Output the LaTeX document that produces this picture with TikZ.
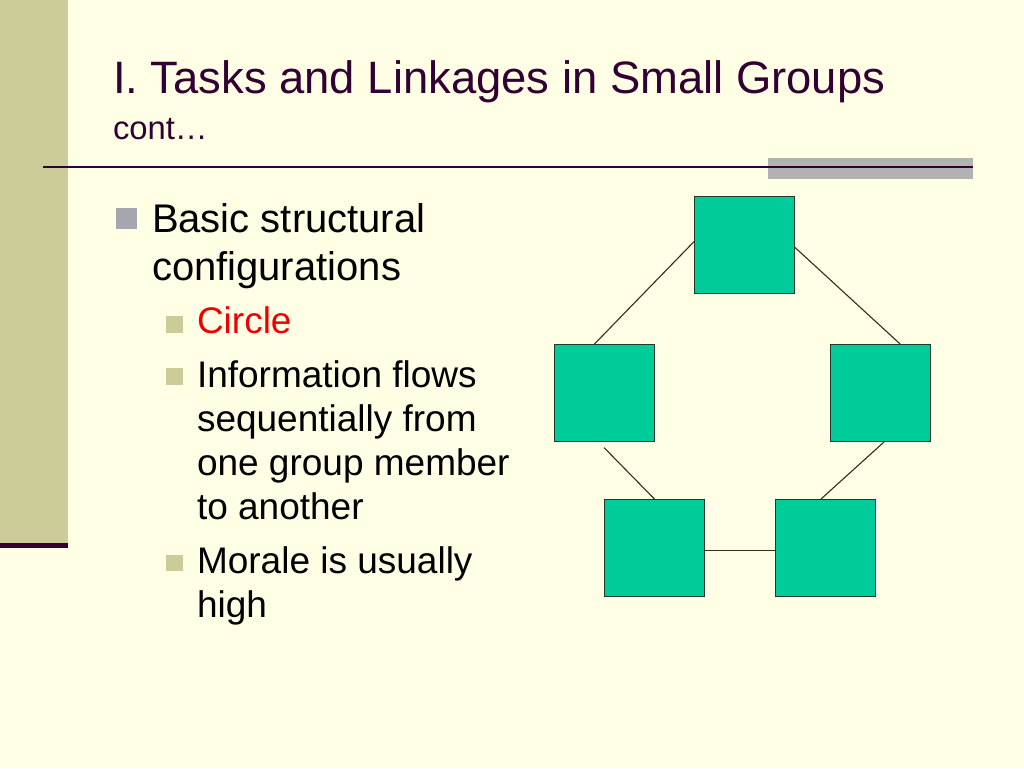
\documentclass[tikz,border=0pt]{standalone}
\usepackage{fontspec}
\setmainfont{Liberation Sans}
\usetikzlibrary{calc}
\definecolor{bg}{HTML}{FFFFE5}
\definecolor{strip}{HTML}{CCCC99}
\definecolor{plum}{HTML}{330033}
\definecolor{bargray}{HTML}{B2B2B2}
\definecolor{bulA}{HTML}{A6A6B0}
\definecolor{bulB}{HTML}{CCCC99}
\definecolor{boxfill}{HTML}{00CC99}
\definecolor{boxline}{HTML}{1E3A2E}
\definecolor{linkc}{HTML}{2E2E22}
\definecolor{hotred}{HTML}{EE0000}
\begin{document}
\begin{tikzpicture}[x=1pt,y=-1pt,
  txt/.style={anchor=base west,inner sep=0pt,outer sep=0pt},
  lvlone/.style={txt,font=\fontsize{40}{48}\selectfont},
  lvltwo/.style={txt,font=\fontsize{37}{44}\selectfont},
  member/.style={draw=boxline,line width=0.9pt,fill=boxfill,minimum width=100pt,minimum height=97pt,inner sep=0pt},
  link/.style={draw=linkc,line width=1.1pt},
  bulone/.style={fill=bulA,draw=none},
  bultwo/.style={fill=bulB,draw=none}]
\useasboundingbox (0,0) rectangle (1024,768);
\fill[bg] (0,0) rectangle (1024,768);
% left strip
\fill[strip] (0,0) rectangle (68,543);
\fill[plum] (0,543) rectangle (68,548);
% gray bar and rule
\fill[bargray] (768,158) rectangle (973,179);
\draw[plum,line width=2pt] (43,166.5) -- (973,166.5);
% title
\node[txt,text=plum,font=\fontsize{45.4}{54}\selectfont] (title) at (113,93) {I. Tasks and Linkages in Small Groups};
\node[txt,text=plum,font=\fontsize{32.8}{38}\selectfont] (cont) at (113,139) {cont…};
% level 1
\fill[bulone] (116,208) rectangle (137,229);
\node[lvlone] (b1a) at (152,232) {Basic structural};
\node[lvlone] (b1b) at (152,280) {configurations};
% level 2
\fill[bultwo] (166,316) rectangle (183,333);
\node[lvltwo,text=hotred] (circ) at (197,333) {Circle};
\fill[bultwo] (166,368) rectangle (183,385);
\node[lvltwo] (inf1) at (197,387) {Information flows};
\node[lvltwo] (inf2) at (197,431) {sequentially from};
\node[lvltwo] (inf3) at (197,475) {one group member};
\node[lvltwo] (inf4) at (197,519) {to another};
\fill[bultwo] (166,555) rectangle (183,571);
\node[lvltwo] (mor1) at (197,573) {Morale is usually};
\node[lvltwo] (mor2) at (197,617) {high};
% network
\node[member] (top) at (744.5,244.5) {};
\node[member] (lm) at (604.5,393) {};
\node[member] (rm) at (880,393) {};
\node[member] (bl) at (654.5,548) {};
\node[member] (br) at (825,548) {};
\draw[link] ($(top.north west)!0.47!(top.south west)$) -- ($(lm.north west)!0.4!(lm.north east)$);
\draw[link] ($(top.north east)!0.53!(top.south east)$) -- ($(rm.north west)!0.7!(rm.north east)$);
\draw[link,shorten <=8pt] ($(lm.south west)!0.44!(lm.south east)$) -- (bl.north);
\draw[link] ($(rm.south west)!0.54!(rm.south east)$) -- ($(br.north west)!0.46!(br.north east)$);
\draw[link] ($(bl.north east)!0.53!(bl.south east)$) -- ($(br.north west)!0.53!(br.south west)$);
\end{tikzpicture}
\end{document}
